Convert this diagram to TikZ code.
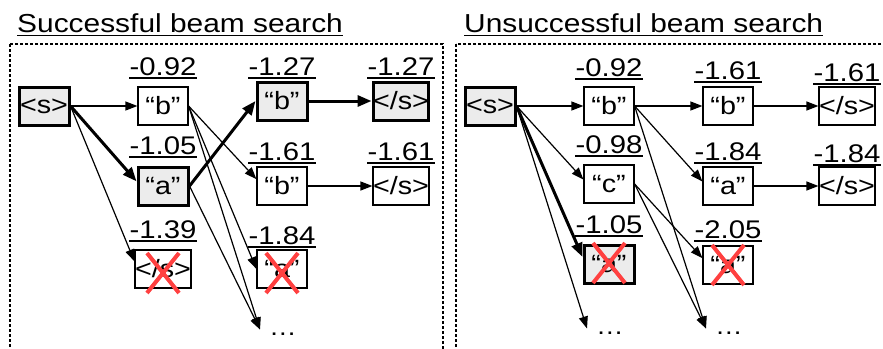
\documentclass[tikz,border=0pt]{standalone}
\usepackage{fontspec}
\setmainfont{Liberation Sans}[FakeStretch=1.15]
\usetikzlibrary{arrows.meta}
\definecolor{boxgray}{RGB}{236,236,236}
\definecolor{crossred}{RGB}{255,64,64}

\begin{document}
\begin{tikzpicture}[x=1pt,y=-1pt,
  tok/.style={draw,line width=1.2pt,minimum width=50pt,minimum height=38pt,inner sep=0pt,
    font=\fontsize{25}{30}\selectfont},
  best/.style={tok,line width=3pt,fill=boxgray},
  ul/.style={append after command={\pgfextra{\draw[line width=1.5pt]
    (\tikzlastnode.south west) -- (\tikzlastnode.south east);}}},
  score/.style={anchor=south,inner xsep=0pt,inner ysep=2.5pt,ul,font=\fontsize{25.5}{30}\selectfont},
  title/.style={anchor=south west,inner xsep=0pt,inner ysep=2.5pt,ul,font=\fontsize{26}{30}\selectfont},
  etc/.style={inner xsep=9pt,inner ysep=3pt,font=\fontsize{24}{28}\selectfont},
  hop/.style={line width=1.2pt,-{Triangle[length=12pt,width=9pt]}},
  win/.style={line width=3pt,-{Triangle[length=14pt,width=11pt]}},
  cut/.style={crossred,line width=4pt},
  panel/.style={line width=1.3pt,dash pattern=on 3pt off 2pt}]
  \useasboundingbox (0,0) rectangle (883,348);

  % successful search
  \node[title] (l-title) at (17,35.5) {Successful beam search};
  \draw[panel] (10,44) rectangle (443,360);
  \node[best] (l-s) at (44,106) {<s>};
  \node[tok] (l-b) at (163,106) {“b”};
  \node[best] (l-a) at (163,186) {“a”};
  \node[tok] (l-e) at (163,269) {</s>};
  \node[best] (l-ab) at (282,101) {“b”};
  \node[tok] (l-bb) at (282,186) {“b”};
  \node[tok] (l-ba) at (282,269) {“a”};
  \node[best] (l-abe) at (401,101) {</s>};
  \node[tok] (l-bbe) at (401,186) {</s>};
  \node[etc] (l-dots) at (283,334) {\ldots};
  \node[score] (l-b-p) at (163,78) {-0.92};
  \node[score] (l-a-p) at (163,157) {-1.05};
  \node[score] (l-e-p) at (163,241) {-1.39};
  \node[score] (l-ab-p) at (282,78) {-1.27};
  \node[score] (l-bb-p) at (282,163) {-1.61};
  \node[score] (l-ba-p) at (282,247) {-1.84};
  \node[score] (l-abe-p) at (401,78) {-1.27};
  \node[score] (l-bbe-p) at (401,163) {-1.61};
  \draw[hop] (l-s.east) -- (l-b.west);
  \draw[win] (l-s.east) -- (l-a.170);
  \draw[hop] (l-s.east) -- (l-e.165);
  \draw[win] (l-a.east) -- (l-ab.west);
  \draw[hop] (l-b.east) -- (l-bb.165);
  \draw[hop] (l-b.east) -- (l-ba.west);
  \draw[hop] (l-b.east) -- (l-dots.north west);
  \draw[hop] (l-a.east) -- (l-dots.north west);
  \draw[win] (l-ab.east) -- (l-abe.west);
  \draw[hop] (l-bb.east) -- (l-bbe.west);

  % unsuccessful search
  \node[title] (r-title) at (464,35.5) {Unsuccessful beam search};
  \draw[panel] (456,44) rectangle (900,360);
  \node[best] (r-s) at (490,106) {<s>};
  \node[tok] (r-b) at (609,106) {“b”};
  \node[tok] (r-c) at (609,184) {“c”};
  \node[best] (r-a) at (609,264) {“a”};
  \node[tok] (r-bb) at (728,106) {“b”};
  \node[tok] (r-ba) at (728,186) {“a”};
  \node[tok] (r-ca) at (728,265) {“a”};
  \node[tok] (r-bbe) at (847,106) {</s>};
  \node[tok] (r-bae) at (847,186) {</s>};
  \node[etc] (r-dots1) at (610,333) {\ldots};
  \node[etc] (r-dots2) at (729,333) {\ldots};
  \node[score] (r-b-p) at (609,79) {-0.92};
  \node[score] (r-c-p) at (609,156) {-0.98};
  \node[score] (r-a-p) at (609,236) {-1.05};
  \node[score] (r-bb-p) at (728,82) {-1.61};
  \node[score] (r-ba-p) at (728,163) {-1.84};
  \node[score] (r-ca-p) at (728,241) {-2.05};
  \node[score] (r-bbe-p) at (847,84) {-1.61};
  \node[score] (r-bae-p) at (847,165) {-1.84};
  \draw[hop] (r-s.east) -- (r-b.west);
  \draw[hop] (r-s.east) -- (r-c.170);
  \draw[win] (r-s.east) -- (r-a.165);
  \draw[hop] (r-s.east) -- (r-dots1.north west);
  \draw[hop] (r-b.east) -- (r-bb.west);
  \draw[hop] (r-b.east) -- (r-ba.170);
  \draw[hop] (r-b.east) -- (r-dots2.north west);
  \draw[hop] (r-c.east) -- (r-ca.165);
  \draw[hop] (r-c.east) -- (r-dots2.north west);
  \draw[hop] (r-bb.east) -- (r-bbe.west);
  \draw[hop] (r-ba.east) -- (r-bae.west);

  % pruned hypotheses
  \foreach \n/\dy in {l-e/4,l-ba/4,r-a/-1,r-ca/0}
    \draw[cut] ([shift={(-16,-20+\dy)}]\n.center) -- ([shift={(16,20+\dy)}]\n.center)
               ([shift={(16,-20+\dy)}]\n.center) -- ([shift={(-16,20+\dy)}]\n.center);
\end{tikzpicture}
\end{document}
